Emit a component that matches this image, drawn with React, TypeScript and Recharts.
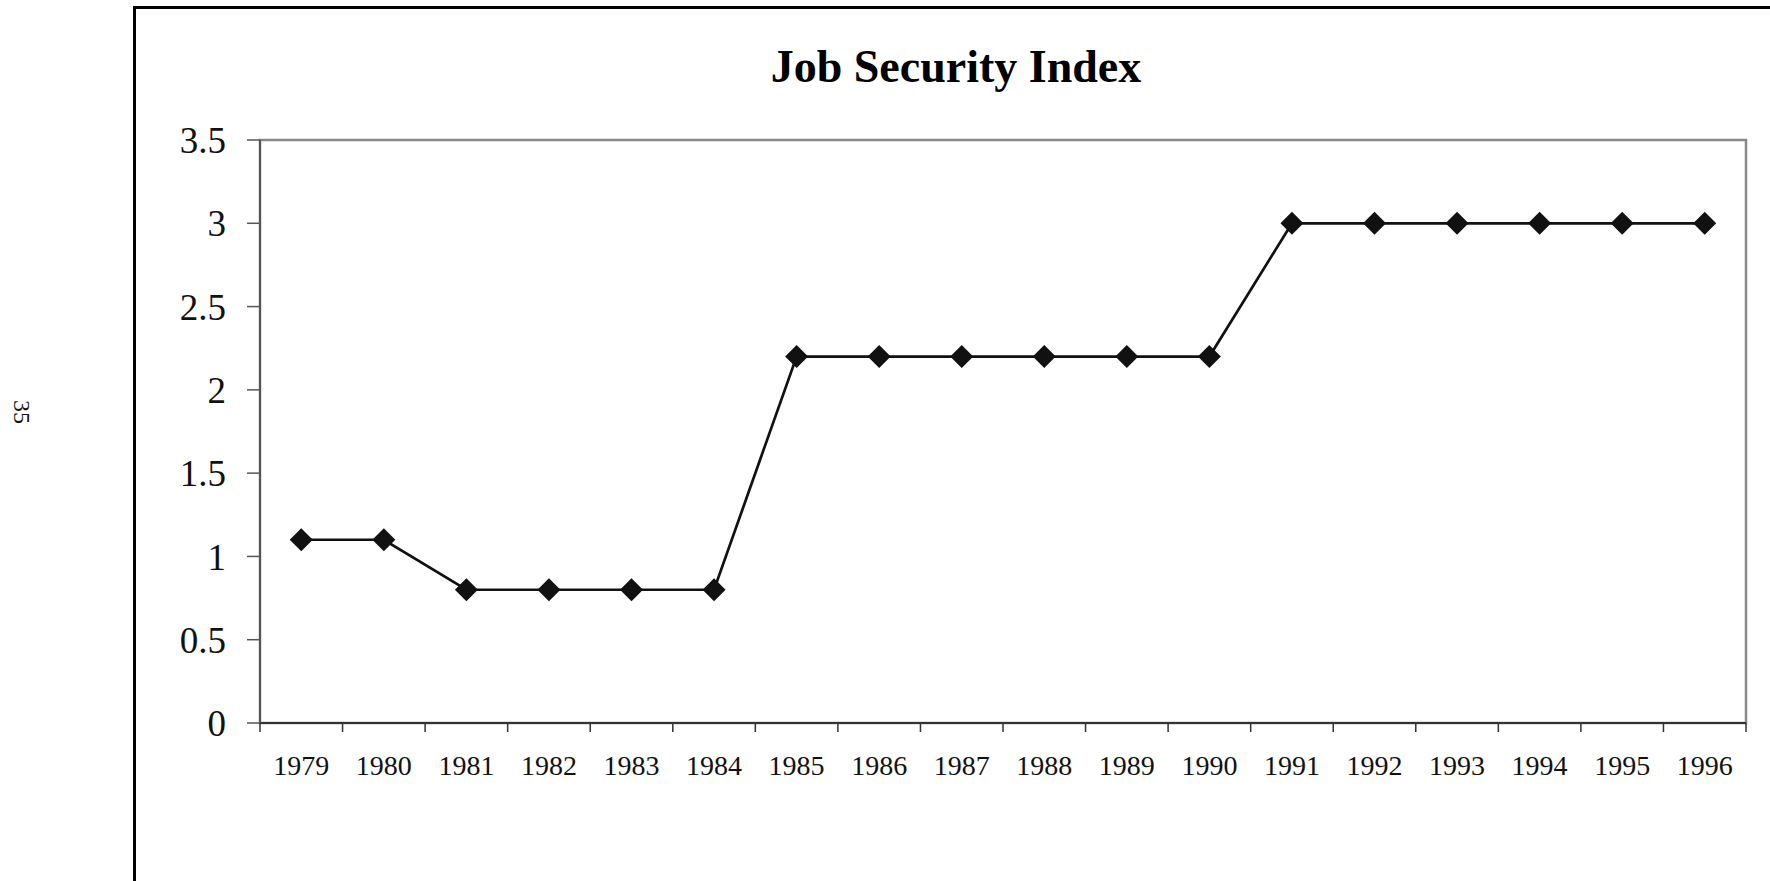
import React from "react";
import { LineChart, Line, XAxis, YAxis, ReferenceArea } from "recharts";

const years = [
  "1979", "1980", "1981", "1982", "1983", "1984", "1985", "1986", "1987",
  "1988", "1989", "1990", "1991", "1992", "1993", "1994", "1995", "1996",
];
const securityIndex = [
  1.1, 1.1, 0.8, 0.8, 0.8, 0.8, 2.2, 2.2, 2.2, 2.2, 2.2, 2.2, 3, 3, 3, 3, 3, 3,
];
const yTicks = [0, 0.5, 1, 1.5, 2, 2.5, 3, 3.5];
const title = "Job Security Index";
const pageNumber = "35";

const data = years.map((year, i) => ({ year, value: securityIndex[i] }));

const serif = '"Liberation Serif", "Times New Roman", serif';

// filled diamond marker
function Diamond(props: any) {
  const { cx, cy } = props;
  if (cx == null || cy == null) return null;
  const r = 11.5;
  return (
    <polygon
      points={`${cx},${cy - r} ${cx + r},${cy} ${cx},${cy + r} ${cx - r},${cy}`}
      fill="#111"
    />
  );
}

// year label in the band centre, tick mark on the band boundary (Excel style)
function YearTick(props: any) {
  const { x, y, payload, index, width } = props;
  const half = payload?.offset || width / (2 * years.length);
  const last = index === years.length - 1;
  return (
    <g>
      <line x1={x - half} x2={x - half} y1={y - 9} y2={y} stroke="#333" strokeWidth={1.5} />
      {last && (
        <line x1={x + half} x2={x + half} y1={y - 9} y2={y} stroke="#333" strokeWidth={1.5} />
      )}
      <text x={x} y={y + 43} textAnchor="middle" fontFamily={serif} fontSize={28} fill="#111">
        {payload.value}
      </text>
    </g>
  );
}

export default function App() {
  return (
    <div
      style={{
        position: "fixed",
        left: 0,
        top: 0,
        width: 1770,
        height: 881,
        overflow: "hidden",
        background: "#fff",
      }}
    >
      <div style={{ position: "absolute", left: 0, top: 0 }}>
        <LineChart
          width={1770}
          height={881}
          data={data}
          margin={{ top: 140, right: 24, bottom: 0, left: 0 }}
        >
          {/* grey plot-area frame */}
          <ReferenceArea
            y1={0}
            y2={3.5}
            fill="none"
            stroke="#888"
            strokeWidth={2.5}
            ifOverflow="visible"
          />
          <XAxis
            dataKey="year"
            scale="band"
            height={158}
            interval={0}
            tickSize={9}
            tickMargin={0}
            tickLine={false}
            axisLine={{ stroke: "#333", strokeWidth: 2 }}
            tick={<YearTick />}
          />
          <YAxis
            width={260}
            domain={[0, 3.5]}
            ticks={yTicks}
            interval={0}
            tickSize={13}
            tickMargin={21}
            axisLine={{ stroke: "#555", strokeWidth: 2 }}
            tickLine={{ stroke: "#555", strokeWidth: 1.5 }}
            tick={{ fill: "#111", fontSize: 37, fontFamily: serif }}
          />
          <Line
            type="linear"
            dataKey="value"
            stroke="#111"
            strokeWidth={2.7}
            dot={<Diamond />}
            activeDot={false}
            isAnimationActive={false}
          />
        </LineChart>
      </div>
      <div
        style={{
          position: "absolute",
          left: 133,
          top: 6,
          width: 3000,
          height: 3000,
          border: "3px solid #000",
          pointerEvents: "none",
        }}
      />
      <svg
        width={1770}
        height={881}
        style={{ position: "absolute", left: 0, top: 0, pointerEvents: "none" }}
      >
        <text
          x={956}
          y={82}
          textAnchor="middle"
          fontFamily={serif}
          fontWeight="bold"
          fontSize={46}
          fill="#000"
        >
          {title}
        </text>
        <text
          x={0}
          y={0}
          transform="translate(14, 412) rotate(90)"
          textAnchor="middle"
          fontFamily={serif}
          fontSize={24}
          fill="#111"
        >
          {pageNumber}
        </text>
      </svg>
    </div>
  );
}
